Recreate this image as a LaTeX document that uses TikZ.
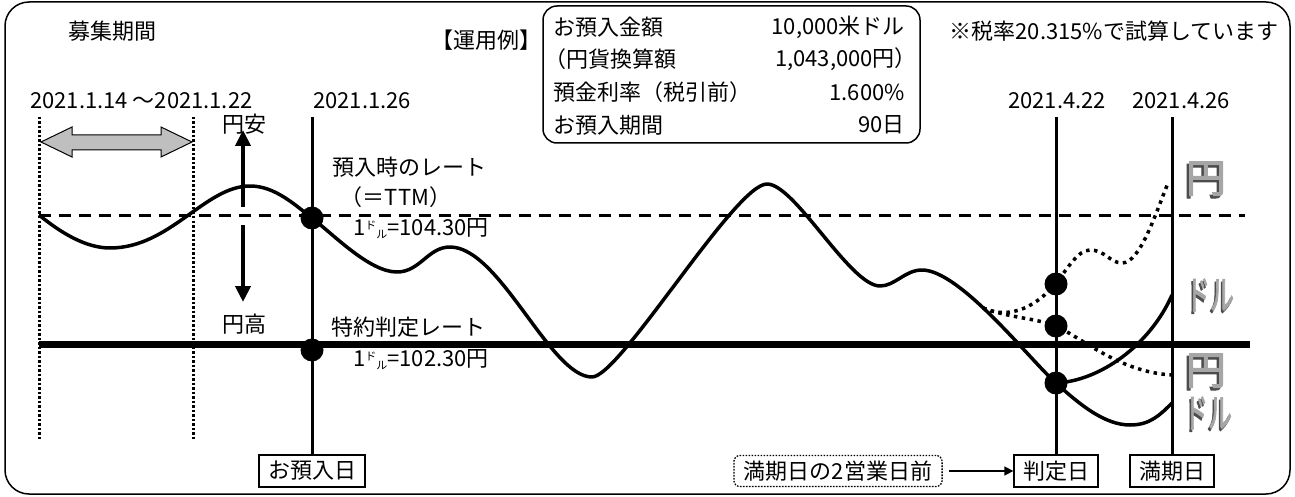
\documentclass[tikz,border=0pt]{standalone}
\usepackage{fontspec}
\setmainfont{Noto Sans CJK JP}
\newfontfamily\glyphfont[FakeBold=2.5]{Noto Sans CJK JP}
\usetikzlibrary{arrows.meta}
\newcommand\smalldoru{\raisebox{6pt}{\fontsize{11}{11}\selectfont ド}\raisebox{-3pt}{\fontsize{11}{11}\selectfont ル}}
\newcommand\threeDglyph[1]{\makebox[0pt][l]{\kern-2.5pt\raisebox{-2.5pt}{\color{black!70}#1}}{\color{black!35}#1}}
\begin{document}
\begin{tikzpicture}[x=1pt,y=-1pt,font=\fontsize{22}{26}\selectfont]
\tikzset{
  txt/.style={inner sep=0pt},
  datebox/.style={draw,line width=1.3pt,inner xsep=9pt,inner ysep=0pt,minimum height=32pt},
  noteframe/.style={draw,line width=1.3pt,dash pattern=on 1.6pt off 1.4pt,rounded corners=6pt,inner xsep=10pt,inner ysep=0pt,minimum height=31pt},
  vline/.style={line width=3pt},
  dotv/.style={line width=3pt,dash pattern=on 2.5pt off 2pt},
  curve/.style={line width=3.5pt,line join=round},
  dotcurve/.style={line width=3.5pt,dash pattern=on 3.5pt off 4.5pt},
  pt/.style={circle,fill,inner sep=0pt,minimum size=23pt},
  bigarrow/.style={line width=4pt,-{Triangle[width=15pt,length=16pt]}},
  glyph/.style={inner sep=0pt,text height=32pt,text depth=3pt,font=\glyphfont\fontsize{40}{40}\selectfont},
}
\useasboundingbox (0,0) rectangle (1295,497);
% outer frame
\draw[line width=1.5pt,rounded corners=24pt] (5,2) rectangle (1290,494);

% top texts
\node[txt] (boshu) at (112,31) {募集期間};
\node[txt,anchor=east] (unyo) at (542,40) {【運用例】};
\node[txt] (zei) at (1114,31) {※税率20.315\%で試算しています};

% info box
\draw[line width=1.5pt,rounded corners=14pt] (543,6) rectangle (920,143);
\node[txt,anchor=west] (r1l) at (553,27) {お預入金額};
\node[txt,anchor=east] (r1r) at (905,27) {10,000米ドル};
\node[txt,anchor=west] (r2l) at (544,59) {（円貨換算額};
\node[txt,anchor=east] (r2r) at (917,59) {1,043,000円）};
\node[txt,anchor=west] (r3l) at (553,92) {預金利率（税引前）};
\node[txt,anchor=east] (r3r) at (905,92) {1.600\%};
\node[txt,anchor=west] (r4l) at (553,125) {お預入期間};
\node[txt,anchor=east] (r4r) at (905,125) {90日};

% dates
\node[txt,anchor=west] (dt1) at (30,101) {2021.1.14 ～2021.1.22};
\node[txt,anchor=west] (dt2) at (313,101) {2021.1.26};
\node[txt] (dt3) at (1057,101) {2021.4.22};
\node[txt] (dt4) at (1181,101) {2021.4.26};

% bottom boxes
\node[datebox] (b1) at (312,471) {お預入日};
\node[noteframe] (b0) at (838,471) {満期日の2営業日前};
\node[datebox] (b2) at (1056,471) {判定日};
\node[datebox] (b3) at (1172,471) {満期日};
\draw[line width=1.5pt,-{Triangle[length=9pt,width=9pt]},shorten <=6pt] (b0.east) -- (b2.west);

% vertical lines
\coordinate (v1) at (312,117);
\coordinate (v2) at (1056,117);
\coordinate (v3) at (1172,117);
\draw[vline] (v1) -- (b1.north);
\draw[vline] (v2) -- (b2.north);
\draw[vline] (v3) -- (b3.north);
\draw[dotv] (39,117) -- (39,440);
\draw[dotv] (193,117) -- (193,440);

% horizontal rate lines
\draw[line width=3pt,dash pattern=on 12pt off 8pt] (39,215) -- (1245,215);
\draw[line width=7pt] (39,344) -- (1250,344);

% period double arrow
\draw[fill=gray!50,line width=1pt,line join=miter] (41,142) -- (72,127) -- (72,135) -- (161,135) -- (161,127) -- (192,142) -- (161,157) -- (161,150) -- (72,150) -- (72,157) -- cycle;

% yen weak / strong arrows
\node[txt] (yasu) at (244,124) {円安};
\node[txt] (taka) at (244,324) {円高};
\coordinate (a1s) at (243,207);
\coordinate (a1e) at (243,130);
\coordinate (a2s) at (243,225);
\coordinate (a2e) at (243,302);
\draw[bigarrow] (a1s) -- (a1e);
\draw[bigarrow] (a2s) -- (a2e);

% rate labels
\node[txt] (l1) at (409,167) {預入時のレート};
\node[txt] (l2) at (396,197) {（＝TTM）};
\node[txt] (l3) at (421,229) {1\smalldoru=104.30円};
\node[txt] (l4) at (408,327) {特約判定レート};
\node[txt] (l5) at (421,360) {1\smalldoru=102.30円};

% main exchange curve
\draw[curve] (39,215) .. controls (60,232) and (85,248) .. (110,248)
  .. controls (170,248) and (205,186) .. (250,186)
  .. controls (275,186) and (295,205) .. (312,218)
  .. controls (335,236) and (370,272) .. (397,272)
  .. controls (420,272) and (428,247) .. (450,247)
  .. controls (500,247) and (550,377) .. (592,377)
  .. controls (620,377) and (735,184) .. (767,184)
  .. controls (795,184) and (850,286) .. (880,286)
  .. controls (895,286) and (905,270) .. (922,270)
  .. controls (960,270) and (1030,360) .. (1056,383)
  .. controls (1080,405) and (1105,425) .. (1130,425)
  .. controls (1150,425) and (1160,415) .. (1172,403);
% branch
\draw[curve] (1056,383) .. controls (1100,381) and (1150,345) .. (1172,295);
% dotted scenarios
\draw[dotcurve] (983,308) .. controls (1005,318) and (1032,312) .. (1056,283)
  .. controls (1068,268) and (1078,250) .. (1090,250)
  .. controls (1105,250) and (1110,263) .. (1122,263)
  .. controls (1140,263) and (1155,215) .. (1168,183);
\draw[dotcurve] (983,308) .. controls (1010,318) and (1035,318) .. (1056,326)
  .. controls (1085,340) and (1120,372) .. (1172,375);

% points
\node[pt] (p1) at (312,218) {};
\node[pt] (p2) at (312,350) {};
\node[pt] (p3) at (1056,284) {};
\node[pt] (p4) at (1056,326) {};
\node[pt] (p5) at (1056,383) {};

% 3D glyphs
\node[glyph] (g1) at (1206,178) {\threeDglyph{円}};
\node[glyph,xscale=0.6] (g2) at (1210,295) {\threeDglyph{ドル}};
\node[glyph] (g3) at (1206,370) {\threeDglyph{円}};
\node[glyph,xscale=0.6] (g4) at (1208,413) {\threeDglyph{ドル}};
\end{tikzpicture}
\end{document}
